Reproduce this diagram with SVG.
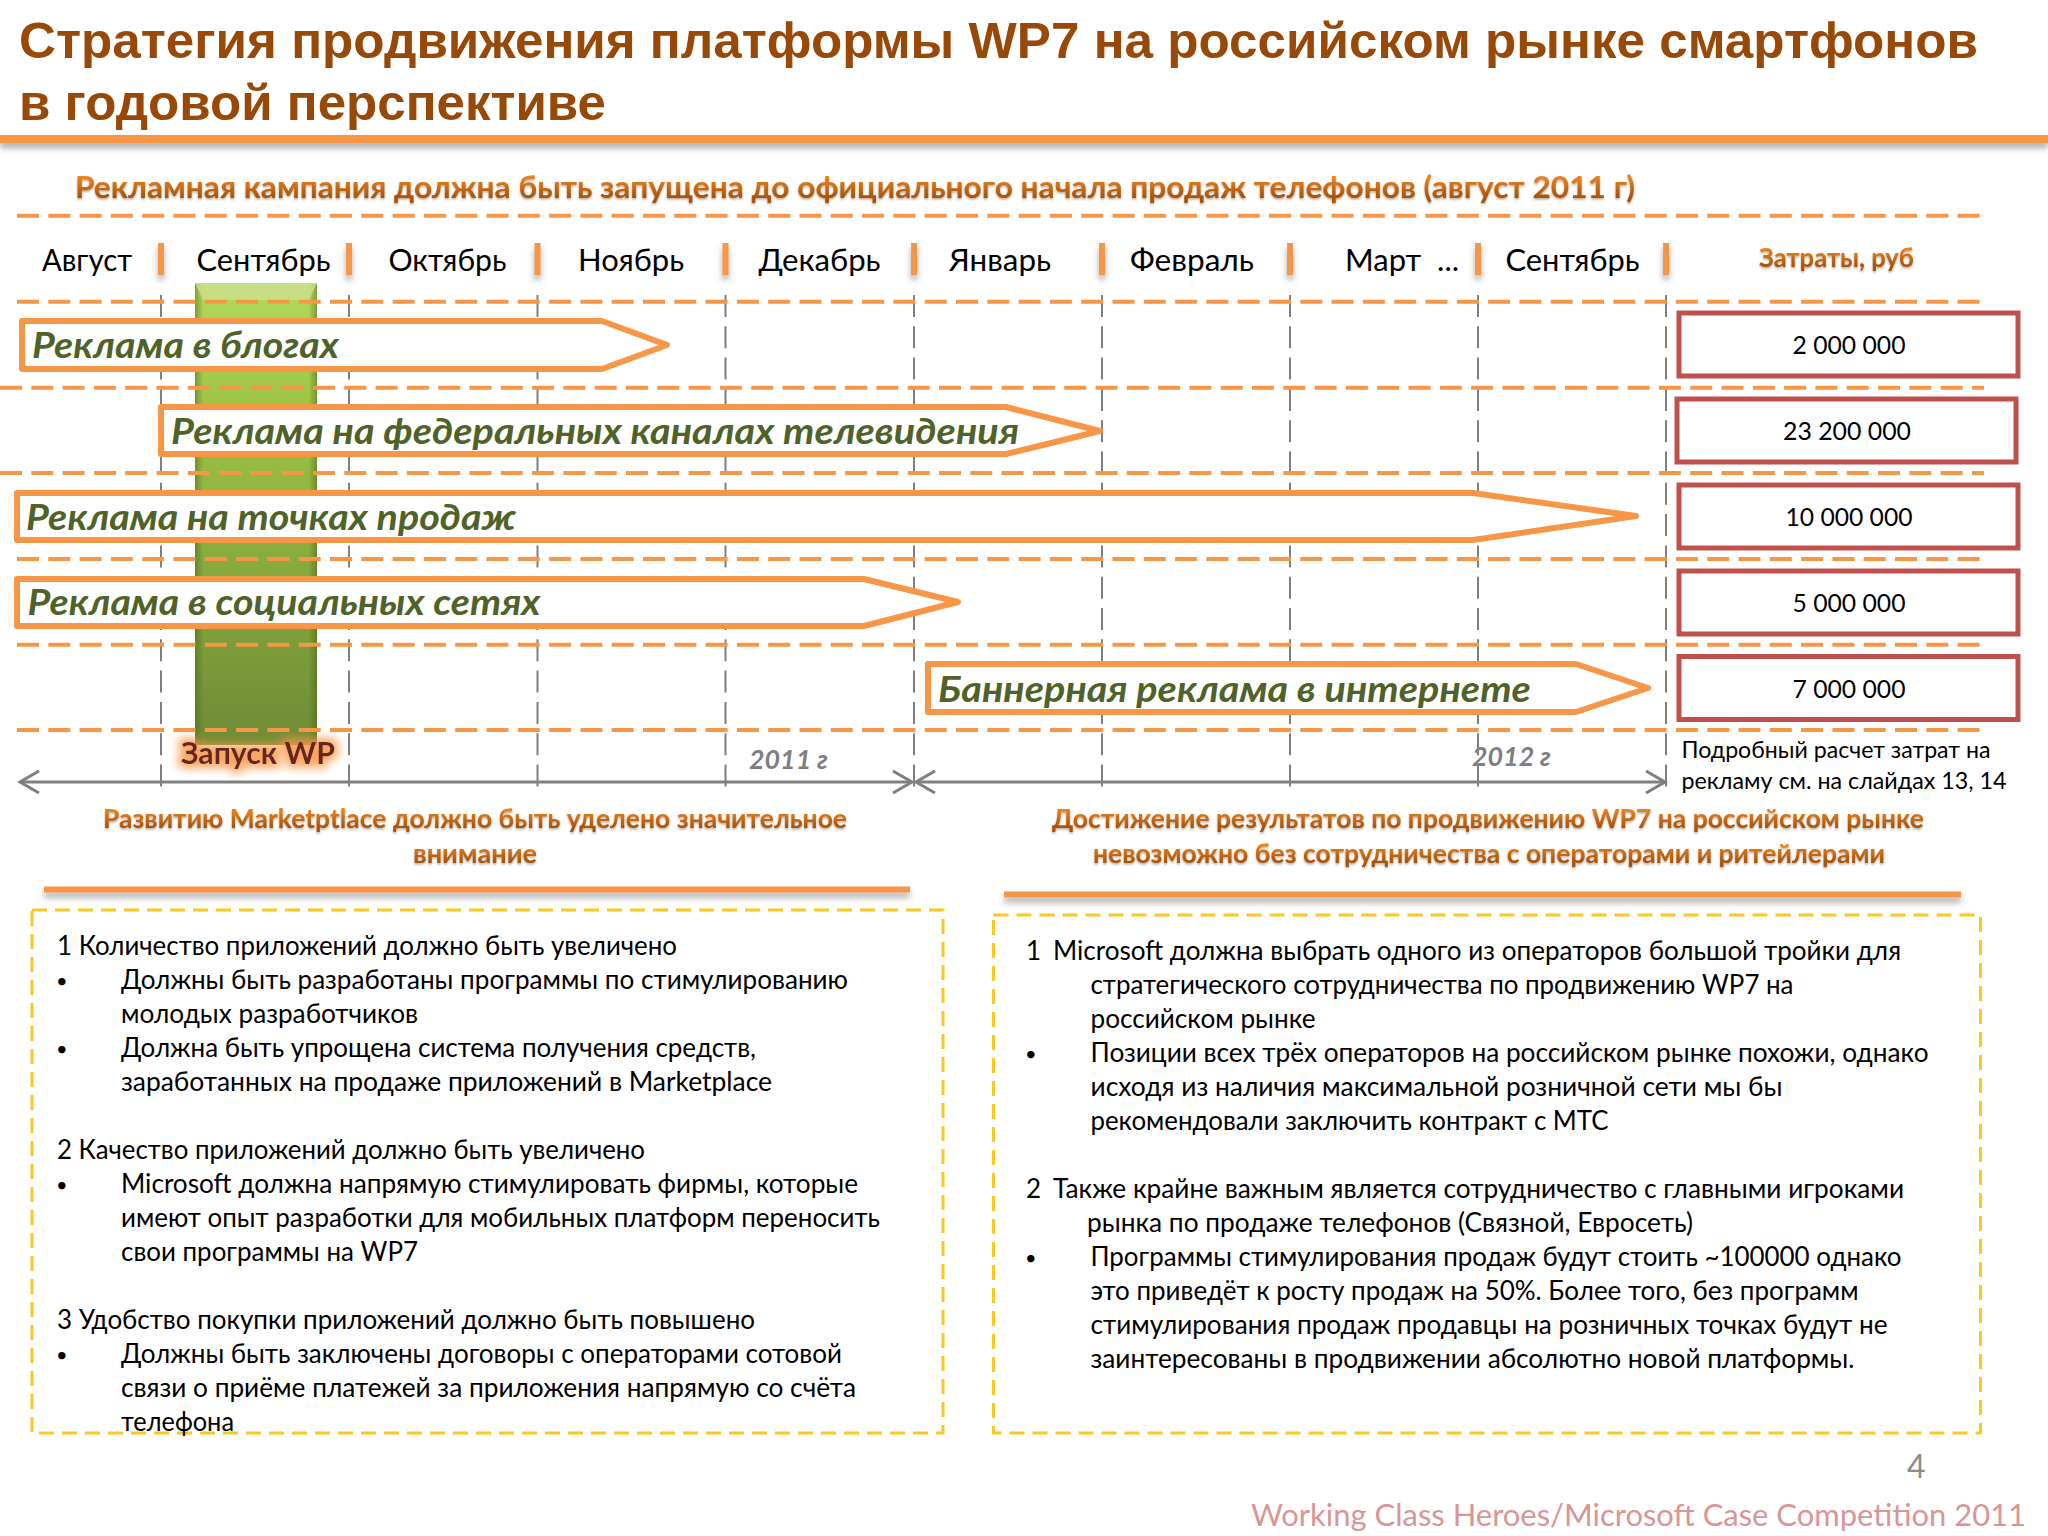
<svg xmlns="http://www.w3.org/2000/svg" width="2048" height="1536" viewBox="0 0 2048 1536">
<style>
text{font-family:"Lato","Open Sans","Liberation Sans",sans-serif}
.title{font-family:"Liberation Sans",Arial,sans-serif;font-weight:700;font-size:50px;fill:#984807}
.head{font-weight:700;font-size:31px;fill:url(#headGrad);filter:url(#textShadow)}
.head2{font-weight:700;font-size:27px;fill:url(#headGrad);filter:url(#textShadow)}
.month{font-size:31px;fill:#000}
.num{font-size:25px;fill:#000;text-anchor:middle}
.bar{font-weight:700;font-style:italic;font-size:36px;fill:#4f6228}
.year{font-weight:700;font-style:italic;font-size:26px;fill:#7f7f7f}
.note{font-size:24px;fill:#000}
.body{font-size:26px;fill:#000}
.dot{font-size:20px;fill:#000}
.hd{stroke:#f79646;stroke-width:4;stroke-dasharray:22 9.3;fill:none}
.vd{stroke:#7f7f7f;stroke-width:2;stroke-dasharray:22 9.3;fill:none}
.sep{stroke:#f79646;stroke-width:6;filter:url(#lineShadow)}
.arrow{fill:#fff;stroke:#f79646;stroke-width:6;stroke-linejoin:round}
.cost{fill:#fff;stroke:#c0504d;stroke-width:5}
.rule{stroke:#f79646;fill:none;filter:url(#lineShadow)}
.axis{stroke:#7f7f7f;stroke-width:3;fill:none}
.yellow{fill:none;stroke:#fac820;stroke-width:3;stroke-dasharray:15 8}
</style>
<defs>
<linearGradient id="headGrad" x1="0" y1="0" x2="0" y2="1"><stop offset="0.2" stop-color="#f08a24"/><stop offset="0.8" stop-color="#a85208"/></linearGradient>
<linearGradient id="greenV" x1="0" y1="0" x2="0" y2="1"><stop offset="0" stop-color="#b3d95a"/><stop offset="0.3" stop-color="#9cc245"/><stop offset="1" stop-color="#6e8c35"/></linearGradient>
<linearGradient id="greenEdge" x1="0" y1="0" x2="1" y2="0"><stop offset="0" stop-color="#3e5a10" stop-opacity="0.45"/><stop offset="0.07" stop-color="#3e5a10" stop-opacity="0"/><stop offset="0.93" stop-color="#3e5a10" stop-opacity="0"/><stop offset="1" stop-color="#3e5a10" stop-opacity="0.45"/></linearGradient>
<filter id="textShadow" x="-5%" y="-30%" width="110%" height="170%"><feDropShadow dx="0" dy="1.5" stdDeviation="1.2" flood-color="#7f5a30" flood-opacity="0.55"/></filter>
<filter id="lineShadow" x="-5%" y="-5%" width="110%" height="110%" filterUnits="userSpaceOnUse" primitiveUnits="userSpaceOnUse"><feDropShadow dx="0" dy="5" stdDeviation="3" flood-color="#555" flood-opacity="0.5"/></filter>
<filter id="glow" x="-20%" y="-40%" width="140%" height="180%"><feMorphology in="SourceAlpha" operator="dilate" radius="4" result="d"/><feGaussianBlur in="d" stdDeviation="5" result="b"/><feFlood flood-color="#f79646" flood-opacity="0.85"/><feComposite in2="b" operator="in" result="g"/><feMerge><feMergeNode in="g"/><feMergeNode in="SourceGraphic"/></feMerge></filter>
<marker id="chev" viewBox="0 0 24 26" refX="21" refY="13" markerWidth="24" markerHeight="26" markerUnits="userSpaceOnUse" orient="auto-start-reverse"><path d="M2 2L21 13L2 24" fill="none" stroke="#7f7f7f" stroke-width="3"/></marker>
</defs>
<rect width="2048" height="1536" fill="#fff"/>

<g id="header">
<text class="title" x="19" y="58" textLength="1959" lengthAdjust="spacingAndGlyphs">Стратегия продвижения платформы WP7 на российском рынке смартфонов</text>
<text class="title" x="19" y="120" textLength="587" lengthAdjust="spacingAndGlyphs">в годовой перспективе</text>
<line x1="0" y1="139" x2="2048" y2="139" class="rule" stroke-width="8"/>
<text class="head" x="75" y="198" textLength="1560" lengthAdjust="spacingAndGlyphs">Рекламная кампания должна быть запущена до официального начала продаж телефонов (август 2011 г)</text>
</g>

<g id="launch-bar">
<rect x="195" y="283" width="122" height="462" fill="url(#greenV)"/>
<rect x="195" y="283" width="122" height="462" fill="url(#greenEdge)"/>
<polygon points="195,283 317,283 309,300 203,300" fill="#cde08f" opacity="0.8"/>
</g>

<g id="grid">
<path class="vd" d="M161 295V787M349 295V787M537.500 295V787M725.500 295V787M914 295V787M1102 295V787M1290 295V787M1478 295V787M1666 295V787"/>
<path class="hd" d="M17 215.700H1980M17 301.700H1980M0 387.700H1984M0 473H1984M17 559H1980M17 644.700H1980M17 730H1980"/>
</g>

<g id="months">
<text class="month" x="42" y="270.500" textLength="90" lengthAdjust="spacingAndGlyphs">Август</text>
<text class="month" x="196.500" y="270.500" textLength="134" lengthAdjust="spacingAndGlyphs">Сентябрь</text>
<text class="month" x="388.500" y="270.500" textLength="118" lengthAdjust="spacingAndGlyphs">Октябрь</text>
<text class="month" x="578" y="270.500" textLength="106" lengthAdjust="spacingAndGlyphs">Ноябрь</text>
<text class="month" x="758.500" y="270.500" textLength="122" lengthAdjust="spacingAndGlyphs">Декабрь</text>
<text class="month" x="949" y="270.500" textLength="102" lengthAdjust="spacingAndGlyphs">Январь</text>
<text class="month" x="1130" y="270.500" textLength="124" lengthAdjust="spacingAndGlyphs">Февраль</text>
<text class="month" x="1345" y="270.500" xml:space="preserve" textLength="114" lengthAdjust="spacingAndGlyphs">Март  ...</text>
<text class="month" x="1505.500" y="270.500" textLength="134" lengthAdjust="spacingAndGlyphs">Сентябрь</text>
<path class="sep" d="M161 243V275M349 243V275M537.500 243V275M725.500 243V275M914 243V275M1102 243V275M1290 243V275M1478 243V275M1666 243V275"/>
<text class="head2" x="1759" y="267" textLength="155" lengthAdjust="spacingAndGlyphs">Затраты, руб</text>
</g>

<g id="bar-blogs"><polygon class="arrow" points="22,321 602,321 667,345 602,369 22,369"/>
<text class="bar" x="32" y="358" textLength="307" lengthAdjust="spacingAndGlyphs">Реклама в блогах</text></g>
<g id="bar-tv"><polygon class="arrow" points="161,407 1006,407 1100,431 1006,454 161,454"/>
<text class="bar" x="171" y="444" textLength="848" lengthAdjust="spacingAndGlyphs">Реклама на федеральных каналах телевидения</text></g>
<g id="bar-retail"><polygon class="arrow" points="17,493 1473,493 1636,516 1473,540 17,540"/>
<text class="bar" x="26" y="530" textLength="490" lengthAdjust="spacingAndGlyphs">Реклама на точках продаж</text></g>
<g id="bar-social"><polygon class="arrow" points="17,579 864,579 958,602 864,626 17,626"/>
<text class="bar" x="27.500" y="615" textLength="513" lengthAdjust="spacingAndGlyphs">Реклама в социальных сетях</text></g>
<g id="bar-banner"><polygon class="arrow" points="928,664 1576,664 1648,688 1576,712 928,712"/>
<text class="bar" x="938" y="702" textLength="593" lengthAdjust="spacingAndGlyphs">Баннерная реклама в интернете</text></g>

<g id="cost-1"><rect class="cost" x="1679" y="313" width="339" height="63"/><text class="num" x="1849" y="354" textLength="113" lengthAdjust="spacingAndGlyphs">2 000 000</text></g>
<g id="cost-2"><rect class="cost" x="1677" y="399" width="339" height="63"/><text class="num" x="1847" y="440" textLength="128" lengthAdjust="spacingAndGlyphs">23 200 000</text></g>
<g id="cost-3"><rect class="cost" x="1679" y="485" width="339" height="63"/><text class="num" x="1849" y="526" textLength="127" lengthAdjust="spacingAndGlyphs">10 000 000</text></g>
<g id="cost-4"><rect class="cost" x="1679" y="571" width="339" height="63"/><text class="num" x="1849" y="612" textLength="113" lengthAdjust="spacingAndGlyphs">5 000 000</text></g>
<g id="cost-5"><rect class="cost" x="1679" y="656.500" width="339" height="63"/><text class="num" x="1849" y="698" textLength="113" lengthAdjust="spacingAndGlyphs">7 000 000</text></g>

<g id="launch-label"><text x="181" y="764" font-weight="700" font-size="31" fill="#632523" filter="url(#glow)" textLength="154" lengthAdjust="spacingAndGlyphs">Запуск WP</text></g>

<g id="connectors">
<line class="axis" x1="20" y1="782" x2="912" y2="782" marker-start="url(#chev)" marker-end="url(#chev)"/>
<line class="axis" x1="916" y1="782" x2="1665" y2="782" marker-start="url(#chev)" marker-end="url(#chev)"/>
</g>

<g id="axis-labels">
<text class="year" x="749" y="769" textLength="79" lengthAdjust="spacingAndGlyphs">2011 г</text>
<text class="year" x="1472" y="766" textLength="79" lengthAdjust="spacingAndGlyphs">2012 г</text>
<text class="note" x="1681.500" y="758" textLength="309" lengthAdjust="spacingAndGlyphs">Подробный расчет затрат на</text>
<text class="note" x="1681.500" y="789" textLength="325" lengthAdjust="spacingAndGlyphs">рекламу см. на слайдах 13, 14</text>
</g>

<g id="left-heading">
<text class="head2" x="103" y="828" textLength="744" lengthAdjust="spacingAndGlyphs">Развитию Marketptlace должно быть уделено значительное</text>
<text class="head2" x="413" y="862.500" textLength="124" lengthAdjust="spacingAndGlyphs">внимание</text>
<line class="rule" x1="44" y1="889.500" x2="910" y2="889.500" stroke-width="6"/>
</g>
<g id="right-heading">
<text class="head2" x="1052" y="828" textLength="872" lengthAdjust="spacingAndGlyphs">Достижение результатов по продвижению WP7 на российском рынке</text>
<text class="head2" x="1093" y="862.500" textLength="792" lengthAdjust="spacingAndGlyphs">невозможно без сотрудничества с операторами и ритейлерами</text>
<line class="rule" x1="1004" y1="894.500" x2="1961" y2="894.500" stroke-width="6"/>
</g>

<g id="left-panel">
<rect class="yellow" x="32" y="910" width="911" height="523"/>
<text class="body" x="57" y="954.500" textLength="620" lengthAdjust="spacingAndGlyphs">1 Количество приложений должно быть увеличено</text>
<text class="dot" x="56" y="988">•</text>
<text class="body" x="121" y="988.500" textLength="727" lengthAdjust="spacingAndGlyphs">Должны быть разработаны программы по стимулированию</text>
<text class="body" x="121" y="1022.500" textLength="297" lengthAdjust="spacingAndGlyphs">молодых разработчиков</text>
<text class="dot" x="56" y="1056">•</text>
<text class="body" x="121" y="1056.500" textLength="635" lengthAdjust="spacingAndGlyphs">Должна быть упрощена система получения средств,</text>
<text class="body" x="121" y="1090.500" textLength="651" lengthAdjust="spacingAndGlyphs">заработанных на продаже приложений в Marketplace</text>
<text class="body" x="57" y="1158.500" textLength="588" lengthAdjust="spacingAndGlyphs">2 Качество приложений должно быть увеличено</text>
<text class="dot" x="56" y="1192">•</text>
<text class="body" x="121" y="1192.500" textLength="737" lengthAdjust="spacingAndGlyphs">Microsoft должна напрямую стимулировать фирмы, которые</text>
<text class="body" x="121" y="1226.500" textLength="759" lengthAdjust="spacingAndGlyphs">имеют опыт разработки для мобильных платформ переносить</text>
<text class="body" x="121" y="1260.500" textLength="297" lengthAdjust="spacingAndGlyphs">свои программы на WP7</text>
<text class="body" x="57" y="1328.500" textLength="698" lengthAdjust="spacingAndGlyphs">3 Удобство покупки приложений должно быть повышено</text>
<text class="dot" x="56" y="1362">•</text>
<text class="body" x="121" y="1362.500" textLength="721" lengthAdjust="spacingAndGlyphs">Должны быть заключены договоры с операторами сотовой</text>
<text class="body" x="121" y="1396.500" textLength="735" lengthAdjust="spacingAndGlyphs">связи о приёме платежей за приложения напрямую со счёта</text>
<text class="body" x="121" y="1430.500" textLength="113" lengthAdjust="spacingAndGlyphs">телефона</text>
</g>

<g id="right-panel">
<rect class="yellow" x="993.500" y="915" width="987" height="518"/>
<text class="body" x="1026" y="959.500">1</text>
<text class="body" x="1053" y="959.500" textLength="848" lengthAdjust="spacingAndGlyphs">Microsoft должна выбрать одного из операторов большой тройки для</text>
<text class="body" x="1090.500" y="993.500" textLength="703" lengthAdjust="spacingAndGlyphs">стратегического сотрудничества по продвижению WP7 на</text>
<text class="body" x="1090.500" y="1027.500" textLength="225" lengthAdjust="spacingAndGlyphs">российском рынке</text>
<text class="dot" x="1025" y="1061">•</text>
<text class="body" x="1090.500" y="1061.500" textLength="838" lengthAdjust="spacingAndGlyphs">Позиции всех трёх операторов на российском рынке похожи, однако</text>
<text class="body" x="1090.500" y="1095.500" textLength="692" lengthAdjust="spacingAndGlyphs">исходя из наличия максимальной розничной сети мы бы</text>
<text class="body" x="1090.500" y="1129.500" textLength="518" lengthAdjust="spacingAndGlyphs">рекомендовали заключить контракт с МТС</text>
<text class="body" x="1026" y="1197.500">2</text>
<text class="body" x="1053" y="1197.500" textLength="851" lengthAdjust="spacingAndGlyphs">Также крайне важным является сотрудничество с главными игроками</text>
<text class="body" x="1087" y="1231.500" textLength="606" lengthAdjust="spacingAndGlyphs">рынка по продаже телефонов (Связной, Евросеть)</text>
<text class="dot" x="1025" y="1265">•</text>
<text class="body" x="1090.500" y="1265.500" textLength="811" lengthAdjust="spacingAndGlyphs">Программы стимулирования продаж будут стоить ~100000 однако</text>
<text class="body" x="1090.500" y="1299.500" textLength="768" lengthAdjust="spacingAndGlyphs">это приведёт к росту продаж на 50%. Более того, без программ</text>
<text class="body" x="1090.500" y="1333.500" textLength="797" lengthAdjust="spacingAndGlyphs">стимулирования продаж продавцы на розничных точках будут не</text>
<text class="body" x="1090.500" y="1367.500" textLength="764" lengthAdjust="spacingAndGlyphs">заинтересованы в продвижении абсолютно новой платформы.</text>
</g>

<g id="footer">
<text x="1907" y="1477.500" font-size="32" fill="#8c8c8c">4</text>
<text x="1251" y="1526" font-size="31" fill="#d99694" textLength="775" lengthAdjust="spacingAndGlyphs">Working Class Heroes/Microsoft Case Competition 2011</text>
</g>
</svg>
